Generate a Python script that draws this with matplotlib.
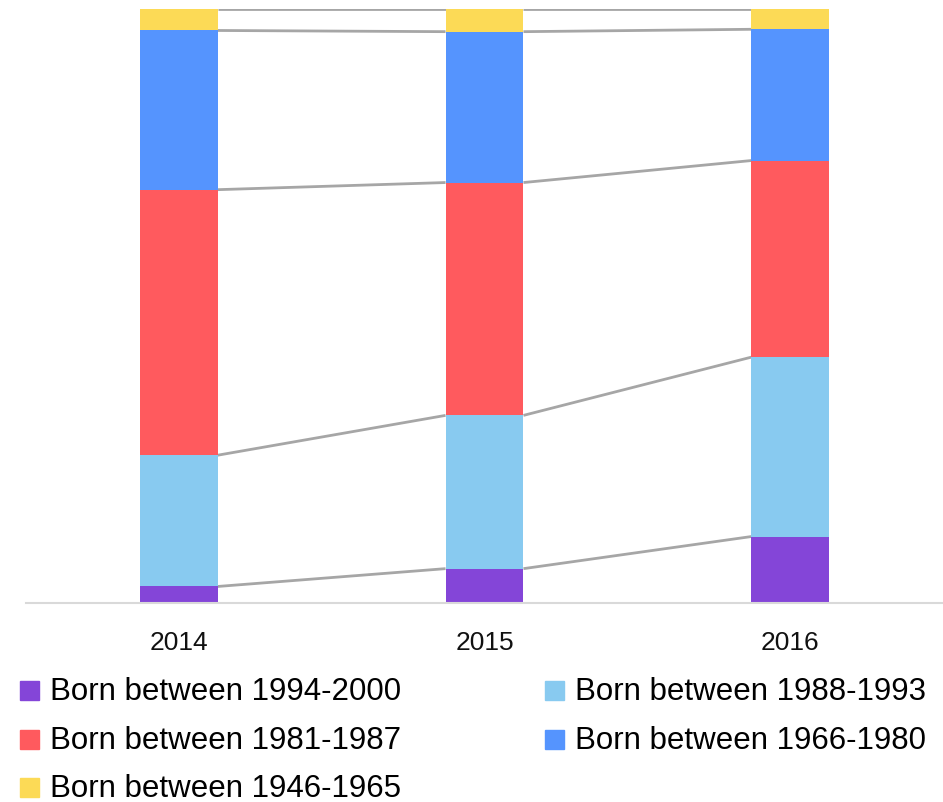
import matplotlib
matplotlib.use("Agg")
import matplotlib.pyplot as plt
import numpy as np
from matplotlib.patches import Rectangle

plt.rcParams['font.family'] = ['Liberation Sans', 'DejaVu Sans']

years = ["2014", "2015", "2016"]
series_names = ["Born between 1994-2000", "Born between 1988-1993",
                "Born between 1981-1987", "Born between 1966-1980",
                "Born between 1946-1965"]
born_1994_2000 = [2.7, 5.7, 11.1]
born_1988_1993 = [22.1, 25.8, 30.2]
born_1981_1987 = [44.7, 39.2, 33.1]
born_1966_1980 = [26.8, 25.4, 22.1]
born_1946_1965 = [3.7, 3.9, 3.5]
colors = ["#8445D8", "#88CAF0", "#FF5A5E", "#5594FE", "#FCDA56"]

series = [born_1994_2000, born_1988_1993, born_1981_1987, born_1966_1980, born_1946_1965]

W, H = 943, 803
fig = plt.figure(figsize=(W / 100, H / 100), dpi=100)
ax = fig.add_axes([26 / W, 1 - 603.5 / H, (943 - 26) / W, (603.5 - 9.5) / H])

x = np.arange(len(years))
width = 0.255
data = np.array(series, dtype=float)
totals = data.sum(axis=0)
pct = data / totals * 100
bottoms = np.zeros(len(years))
tops_list = []
for vals, c in zip(pct, colors):
    ax.bar(x, vals, width, bottom=bottoms, color=c, edgecolor='none', zorder=2)
    bottoms = bottoms + vals
    tops_list.append(bottoms.copy())

# connector lines
for tops in tops_list:
    for i in range(len(years) - 1):
        ax.plot([x[i] + width / 2, x[i + 1] - width / 2], [tops[i], tops[i + 1]],
                color="#a6a6a6", lw=2, zorder=1, solid_capstyle='butt')

ax.set_xlim(-0.5, 2.5)
ax.set_ylim(0, 100)
for s in ['top', 'right', 'left']:
    ax.spines[s].set_visible(False)
ax.spines['bottom'].set_color('#d9d9d9')
ax.spines['bottom'].set_linewidth(1.5)
ax.set_yticks([])
ax.set_xticks(x)
ax.set_xticklabels(years, fontsize=19)
ax.tick_params(axis='x', length=0, pad=20, colors='#111111')
ax.patch.set_alpha(0)

# legend (manual)
col_x = [20, 545]
row_y = [691, 740, 788]
sq = 19
for i, (name, c) in enumerate(zip(series_names, colors)):
    r, cidx = i // 2, i % 2
    x0 = col_x[cidx]
    yc = row_y[r]
    fig.patches.append(Rectangle((x0 / W, 1 - (yc + sq / 2) / H), sq / W, sq / H,
                                 transform=fig.transFigure, color=c))
    fig.text((x0 + 30) / W, 1 - (yc + 1) / H, name, fontsize=22.5, va='center', ha='left',
             color='#000000')

fig.savefig("out.png", dpi=100)
